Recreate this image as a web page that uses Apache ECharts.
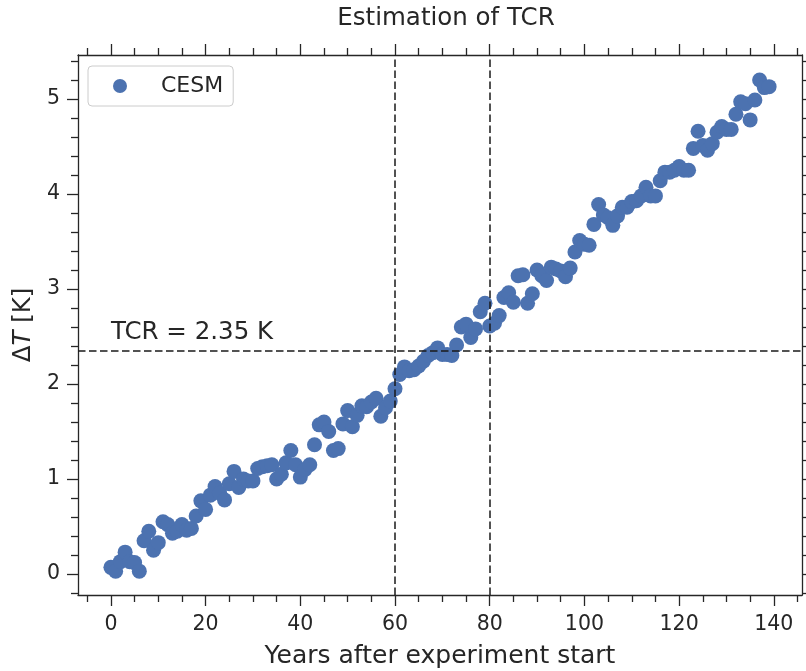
<!DOCTYPE html>
<html><head><meta charset="utf-8">
<script src="https://cdn.jsdelivr.net/npm/echarts@6/dist/echarts.min.js"></script>
<style>html,body{margin:0;padding:0;background:#fff}#c{width:806px;height:671px}</style>
</head><body><div id="c"></div>
<script>
const years = [0,1,2,3,4,5,6,7,8,9,10,11,12,13,14,15,16,17,18,19,20,21,22,23,24,25,26,27,28,29,30,31,32,33,34,35,36,37,38,39,40,41,42,43,44,45,46,47,48,49,50,51,52,53,54,55,56,57,58,59,60,61,62,63,64,65,66,67,68,69,70,71,72,73,74,75,76,77,78,79,80,81,82,83,84,85,86,87,88,89,90,91,92,93,94,95,96,97,98,99,100,101,102,103,104,105,106,107,108,109,110,111,112,113,114,115,116,117,118,119,120,121,122,123,124,125,126,127,128,129,130,131,132,133,134,135,136,137,138,139];
const deltaT = [0.07,0.03,0.13,0.23,0.13,0.12,0.03,0.35,0.45,0.25,0.33,0.55,0.52,0.43,0.45,0.52,0.46,0.48,0.61,0.77,0.68,0.83,0.92,0.85,0.78,0.95,1.08,0.91,1.00,0.98,0.98,1.11,1.13,1.14,1.15,1.00,1.05,1.17,1.30,1.15,1.02,1.10,1.15,1.36,1.57,1.60,1.50,1.30,1.32,1.58,1.72,1.55,1.67,1.77,1.76,1.81,1.85,1.66,1.75,1.82,1.95,2.10,2.18,2.14,2.15,2.19,2.24,2.30,2.33,2.38,2.31,2.31,2.30,2.41,2.60,2.63,2.49,2.58,2.76,2.85,2.61,2.64,2.72,2.91,2.96,2.86,3.14,3.15,2.85,2.95,3.20,3.14,3.09,3.23,3.21,3.19,3.13,3.22,3.39,3.51,3.47,3.46,3.68,3.89,3.78,3.75,3.67,3.77,3.86,3.86,3.92,3.93,3.98,4.07,3.98,3.98,4.14,4.23,4.23,4.25,4.29,4.25,4.25,4.48,4.66,4.51,4.46,4.53,4.65,4.71,4.68,4.68,4.84,4.97,4.95,4.78,4.99,5.20,5.12,5.13];
const seriesName = 'CESM';
const tcrValue = 2.35;
const tcrWindow = [60, 80];
const xMajorTicks = [0,20,40,60,80,100,120,140];
const xMinorTicks = [-5,5,10,15,25,30,35,45,50,55,65,70,75,85,90,95,105,110,115,125,130,135,145];
const yMajorTicks = [0,1,2,3,4,5];
const yMinorTicks = [-0.2,0.2,0.4,0.6,0.8,1.2,1.4,1.6,1.8,2.2,2.4,2.6,2.8,3.2,3.4,3.6,3.8,4.2,4.4,4.6,4.8,5.2,5.4];
const xRange = [-6.95, 145.95];
const yRange = [-0.221, 5.463];

const INK = '#262626';
const FONT = 'DejaVu Sans';
const MAJOR_LEN = 11;
const MINOR_LEN = 7;
const chart = echarts.init(document.getElementById('c'), null, {renderer: 'canvas'});

function xAx(pos, ticks, len, labels, line) {
  return {
    type: 'value', position: pos, min: xRange[0], max: xRange[1], gridIndex: 0,
    axisLine: {show: line, onZero: false, lineStyle: {color: INK, width: 1.3}},
    axisTick: {show: true, inside: false, length: len, customValues: ticks, lineStyle: {color: INK, width: 1.3}},
    axisLabel: {show: labels, customValues: ticks, color: INK, fontSize: 20.5, fontFamily: FONT, margin: 19},
    splitLine: {show: false}
  };
}
function yAx(pos, ticks, len, labels, line) {
  return {
    type: 'value', position: pos, min: yRange[0], max: yRange[1], gridIndex: 0,
    axisLine: {show: line, onZero: false, lineStyle: {color: INK, width: 1.3}},
    axisTick: {show: true, inside: false, length: len, customValues: ticks, lineStyle: {color: INK, width: 1.3}},
    axisLabel: {show: labels, customValues: ticks, color: INK, fontSize: 20.5, fontFamily: FONT, margin: 18},
    splitLine: {show: false}
  };
}
const xb = xAx('bottom', xMajorTicks, MAJOR_LEN, true, true);
xb.name = 'Years after experiment start';
xb.nameLocation = 'middle';
xb.nameGap = 49;
xb.nameTextStyle = {color: INK, fontSize: 25, fontFamily: FONT};
const yl = yAx('left', yMajorTicks, MAJOR_LEN, true, true);
yl.name = '{a|Δ}{b|T}{a| [K]}';
yl.nameLocation = 'middle';
yl.nameGap = 40;
yl.nameRotate = 90;
yl.nameTextStyle = {color: INK, fontSize: 24.5, fontFamily: FONT, rich: {a: {fontSize: 24.5, fontFamily: FONT, color: INK}, b: {fontSize: 24.5, fontFamily: FONT, fontStyle: 'italic', color: INK}}};

chart.setOption({
  animation: false,
  backgroundColor: '#ffffff',
  title: {text: 'Estimation of TCR', left: 441, textAlign: 'center', top: 1,
    textStyle: {color: INK, fontSize: 24.5, fontWeight: 'normal', fontFamily: FONT}},
  grid: {left: 78, right: 4, top: 55, bottom: 76, containLabel: false, outerBoundsMode: 'none'},
  legend: {
    data: [seriesName], left: 88, top: 66, orient: 'vertical',
    icon: 'circle', itemWidth: 14, itemHeight: 14,
    borderColor: '#cccccc', borderWidth: 1, borderRadius: 4,
    padding: [9, 10, 9, 25], backgroundColor: '#ffffff',
    textStyle: {color: INK, fontSize: 22, fontFamily: FONT, padding: [0, 0, 0, 29]}
  },
  xAxis: [xb, xAx('bottom', xMinorTicks, MINOR_LEN, false, false), xAx('top', xMajorTicks, MAJOR_LEN, false, true), xAx('top', xMinorTicks, MINOR_LEN, false, false)],
  yAxis: [yl, yAx('left', yMinorTicks, MINOR_LEN, false, false), yAx('right', yMajorTicks, MAJOR_LEN, false, true), yAx('right', yMinorTicks, MINOR_LEN, false, false)],
  series: [{
    name: seriesName, type: 'scatter', xAxisIndex: 0, yAxisIndex: 0,
    symbolSize: 15, itemStyle: {color: '#4C72B0', opacity: 1},
    data: years.map((y, i) => [y, deltaT[i]]),
    z: 3,
    markLine: {
      silent: true, symbol: ['none', 'none'], animation: false,
      lineStyle: {color: '#1a1a1a', width: 1.5, type: [7.5, 3.5]},
      label: {show: false},
      data: [{xAxis: tcrWindow[0]}, {xAxis: tcrWindow[1]}, {yAxis: tcrValue}]
    },
    markPoint: {
      silent: true, animation: false,
      data: [{coord: [0, tcrValue], symbol: 'circle', symbolSize: 0,
        label: {show: true, position: [0, 0], align: 'left', verticalAlign: 'bottom', offset: [0, -6],
          formatter: 'TCR = ' + tcrValue.toFixed(2) + ' K', color: INK, fontSize: 24.5, fontFamily: FONT}}]
    }
  }]
});
</script></body></html>
